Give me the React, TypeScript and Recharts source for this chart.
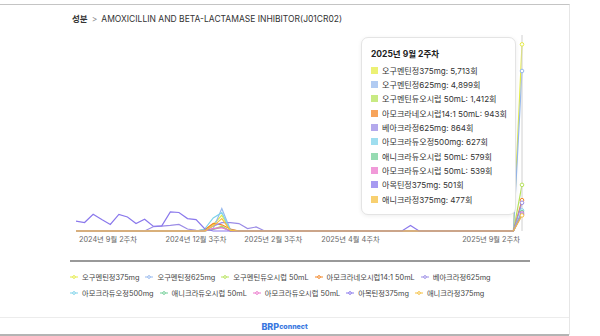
import { LineChart, Line, XAxis, YAxis, Tooltip, Legend } from 'recharts';

const FONT = 'Inter, "Noto Sans CJK KR", "Noto Sans", sans-serif';

const categories = [
  '2024년 9월 2주차', '2024년 9월 3주차', '2024년 9월 4주차', '2024년 10월 1주차',
  '2024년 10월 2주차', '2024년 10월 3주차', '2024년 10월 4주차', '2024년 10월 5주차',
  '2024년 11월 1주차', '2024년 11월 2주차', '2024년 11월 3주차', '2024년 11월 4주차',
  '2024년 12월 1주차', '2024년 12월 2주차', '2024년 12월 3주차', '2024년 12월 4주차',
  '2025년 1월 1주차', '2025년 1월 2주차', '2025년 1월 3주차', '2025년 1월 4주차',
  '2025년 1월 5주차', '2025년 2월 1주차', '2025년 2월 2주차', '2025년 2월 3주차',
  '2025년 2월 4주차', '2025년 3월 1주차', '2025년 3월 2주차', '2025년 3월 3주차',
  '2025년 3월 4주차', '2025년 4월 1주차', '2025년 4월 2주차', '2025년 4월 3주차',
  '2025년 4월 4주차', '2025년 4월 5주차', '2025년 5월 1주차', '2025년 5월 2주차',
  '2025년 5월 3주차', '2025년 5월 4주차', '2025년 6월 1주차', '2025년 6월 2주차',
  '2025년 6월 3주차', '2025년 6월 4주차', '2025년 7월 1주차', '2025년 7월 2주차',
  '2025년 7월 3주차', '2025년 7월 4주차', '2025년 7월 5주차', '2025년 8월 1주차',
  '2025년 8월 2주차', '2025년 8월 3주차', '2025년 8월 4주차', '2025년 9월 1주차',
  '2025년 9월 2주차',
];

const tickLabels = ['2024년 9월 2주차', '2024년 12월 3주차', '2025년 2월 3주차', '2025년 4월 4주차', '2025년 9월 2주차'];

const seriesNames = [
  '오구멘틴정375mg', '오구멘틴정625mg', '오구멘틴듀오시럽 50mL', '아모크라네오시럽14:1 50mL', '베아크라정625mg',
  '아모크라듀오정500mg', '애니크라듀오시럽 50mL', '아모크라듀오시럽 50mL', '아목틴정375mg', '애니크라정375mg',
];

const seriesColors = [
  '#e5ec45', '#97b9ee', '#b6e35a', '#f48524', '#9b8ce6',
  '#7fd3ea', '#73cf98', '#ec78cc', '#8a78ec', '#f5c040',
];

// weekly counts, index = categories
const ogmentin375 = [0,0,0,0,0,0,0,0,0,0,0,0,0,0,0,30,200,480,20,0,0,0,0,0,0,0,0,0,0,0,0,0,0,0,0,0,0,0,0,0,0,0,0,0,0,0,0,0,0,0,0,0,5713];
const ogmentin625 = [0,0,0,0,0,0,0,0,0,0,0,0,0,0,0,0,80,690,40,0,0,0,0,0,0,0,0,0,0,0,0,0,0,0,0,0,0,0,0,0,0,0,0,0,0,0,0,0,0,0,0,0,4899];
const ogmentinSyrup = [0,0,0,0,0,0,0,0,0,0,0,0,0,0,0,0,60,150,0,0,0,0,0,0,0,0,0,0,0,0,0,0,0,0,0,0,0,0,0,0,0,0,0,0,0,0,0,0,0,0,0,0,1412];
const amocraNeo = [0,0,0,0,0,0,0,0,0,0,0,0,0,0,0,40,230,190,60,0,0,0,0,0,0,0,0,0,0,0,0,0,0,0,0,0,0,0,0,0,0,0,0,0,0,0,0,0,0,0,0,0,943];
const beacra625 = [0,0,0,0,0,0,0,0,0,130,150,170,200,60,20,0,150,257,257,227,73,123,0,0,0,0,0,0,0,0,0,0,0,0,0,0,0,0,0,0,0,0,0,0,0,0,0,0,0,0,0,0,864];
const amocraDuo500 = [0,0,0,0,0,0,0,0,0,0,0,0,0,0,0,60,400,560,30,0,0,0,0,0,0,0,0,0,0,0,0,0,0,0,0,0,0,0,0,0,0,0,0,0,0,0,0,0,0,0,0,0,627];
const anycraSyrup = [0,0,0,0,0,0,0,0,0,0,0,0,0,0,0,0,50,120,0,0,0,0,0,0,0,0,0,0,0,0,0,0,0,0,0,0,0,0,0,0,0,0,0,0,0,0,0,0,0,0,0,0,579];
const amocraSyrup = [0,0,0,0,0,0,0,0,0,0,0,0,0,0,0,0,70,100,0,0,0,0,0,0,0,0,0,0,0,0,0,0,0,0,0,0,0,0,0,0,0,0,0,0,0,0,0,0,0,0,0,0,539];
const amoktin375 = [300,260,510,350,200,510,430,230,360,145,155,585,566,380,350,70,0,0,0,0,0,0,0,0,0,0,0,0,0,0,0,0,0,0,0,0,0,0,0,170,0,0,0,0,0,0,0,0,0,0,0,0,501];
const anycra375 = [0,0,0,0,0,0,0,0,0,0,0,0,0,0,0,0,150,380,20,0,0,0,0,0,0,0,0,0,0,0,0,0,0,0,0,0,0,0,0,0,0,0,0,0,0,0,0,0,0,0,0,0,477];

const seriesValues = [
  ogmentin375, ogmentin625, ogmentinSyrup, amocraNeo, beacra625,
  amocraDuo500, anycraSyrup, amocraSyrup, amoktin375, anycra375,
];

const data = categories.map((week, i) => {
  const row: Record<string, string | number> = { week };
  seriesNames.forEach((name, s) => {
    row[name] = seriesValues[s][i];
  });
  return row;
});

const WeekTick = (props: any) => {
  const { x, y, payload } = props;
  const idx = categories.indexOf(payload.value);
  let anchor = 'middle';
  let tx = x;
  if (idx === 0) {
    anchor = 'start';
    tx = x + 3;
  } else if (idx === categories.length - 1) {
    anchor = 'end';
    tx = x - 2;
  }
  return (
    <text x={tx} y={y} dy='0.35em' textAnchor={anchor} fontSize={7.3} fill='#666' fontFamily={FONT}>
      {payload.value}
    </text>
  );
};

const renderTooltip = ({ active, payload, label }: any) => {
  if (!active || !payload || !payload.length) return null;
  return (
    <div
      style={{
        width: 155,
        height: 178,
        boxSizing: 'border-box',
        background: '#fff',
        border: '1px solid #e4e4e4',
        borderRadius: 7,
        boxShadow: '0 1px 4px rgba(0,0,0,0.07)',
        padding: '10px 4px 8px 9px',
        fontFamily: FONT,
      }}
    >
      <div style={{ fontSize: 8.5, fontWeight: 700, lineHeight: '12px', color: '#222' }}>{label}</div>
      <div style={{ marginTop: 3 }}>
        {payload.map((p: any) => (
          <div key={p.name} style={{ display: 'flex', alignItems: 'center', height: 14.33, fontSize: 8.1, color: '#333', whiteSpace: 'nowrap' }}>
            <span style={{ width: 7, height: 7, background: p.color, opacity: 0.75, marginRight: 4, flexShrink: 0 }} />
            {p.name}: {Number(p.value).toLocaleString('en-US')}회
          </div>
        ))}
      </div>
    </div>
  );
};

const renderLegend = ({ payload }: any) => {
  const items = [...(payload || [])].sort(
    (a: any, b: any) => seriesNames.indexOf(a.value) - seriesNames.indexOf(b.value),
  );
  return (
    <div style={{ display: 'flex', flexWrap: 'wrap', fontFamily: FONT, fontSize: 7.3, color: '#444' }}>
      {items.map((p: any) => (
        <div key={p.value} style={{ display: 'flex', alignItems: 'center', height: 15.8, marginRight: 6 }}>
          <svg width={8} height={8} viewBox='0 0 32 32' style={{ marginRight: 4 }}>
            <path
              strokeWidth={4}
              fill='none'
              stroke={p.color}
              d='M0,16h10.67A5.33,5.33,0,1,1,21.33,16H32M21.33,16A5.33,5.33,0,1,1,10.67,16'
            />
          </svg>
          {p.value}
        </div>
      ))}
    </div>
  );
};

export default function App() {
  return (
    <div style={{ position: 'absolute', left: 0, top: 0, width: 600, height: 336, background: '#fff', overflow: 'hidden', fontFamily: FONT }}>
      {/* card frame */}
      <div style={{ position: 'absolute', left: -2, top: 4, width: 571, height: 330, borderTop: '1px solid #c4c4c4', borderRight: '1px solid #e6e6e6' }} />
      <div style={{ position: 'absolute', left: 0, top: 317, width: 569, height: 1, background: '#ececec' }} />
      <div style={{ position: 'absolute', left: 0, top: 334, width: 569, height: 2, background: '#b4b4b4' }} />
      <div style={{ position: 'absolute', left: 70, top: 260, width: 460, height: 2, background: '#999' }} />

      <div style={{ position: 'absolute', left: 72, top: 12, fontSize: 8.5, lineHeight: '14px', color: '#333', whiteSpace: 'nowrap' }}>
        <span style={{ fontWeight: 700 }}>성분</span>
        <span style={{ color: '#888', margin: '0 4px' }}>&gt;</span>
        AMOXICILLIN AND BETA-LACTAMASE INHIBITOR(J01CR02)
      </div>

      <div style={{ position: 'absolute', left: 0, top: 0 }}>
        <LineChart width={600} height={310} data={data} margin={{ top: 35, right: 78, left: 76, bottom: 59 }}>
          <XAxis
            dataKey='week'
            ticks={tickLabels}
            interval={0}
            height={20}
            axisLine={false}
            tickLine={false}
            tick={<WeekTick />}
          />
          <YAxis hide domain={[0, 6000]} />
          <Tooltip
            defaultIndex={52}
            position={{ x: 361, y: 37 }}
            content={renderTooltip}
            cursor={{ stroke: '#d0d0d0', strokeWidth: 1 }}
            isAnimationActive={false}
          />
          <Legend
            layout='horizontal'
            verticalAlign='middle'
            align='center'
            wrapperStyle={{ top: 269, left: 70, width: 460 }}
            content={renderLegend}
          />
          {seriesNames.map((name, s) => (
            <Line
              key={name}
              type='linear'
              dataKey={name}
              name={name}
              stroke={seriesColors[s]}
              strokeWidth={1.2}
              dot={false}
              activeDot={{ r: 1.8, fill: '#fff', stroke: seriesColors[s], strokeWidth: 1 }}
              isAnimationActive={false}
            />
          ))}
        </LineChart>
      </div>

      <div style={{ position: 'absolute', left: 0, width: 569, top: 319, height: 14, display: 'flex', justifyContent: 'center', alignItems: 'center', color: '#3b78e0', fontWeight: 800 }}>
        <span style={{ fontSize: 9 }}>BRP</span>
        <span style={{ fontSize: 7, marginTop: 1 }}>connect</span>
      </div>
    </div>
  );
}
